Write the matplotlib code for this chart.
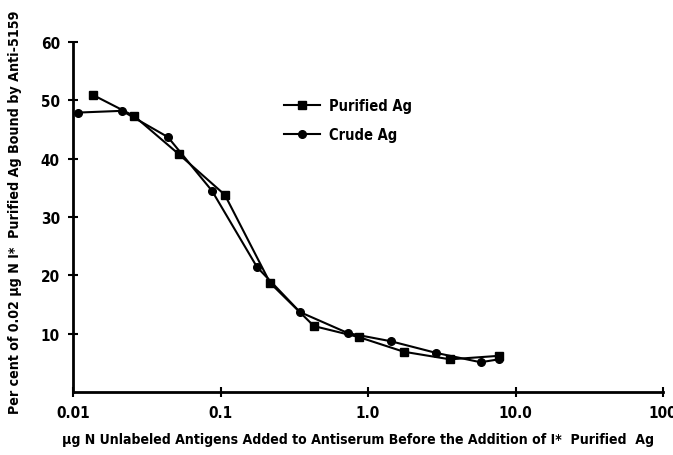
import matplotlib
matplotlib.use("Agg")
import matplotlib.pyplot as plt
from matplotlib.ticker import FixedLocator, FixedFormatter, NullLocator

plt.rcParams['font.family'] = ['DejaVu Sans']
plt.rcParams['font.stretch'] = 'condensed'
plt.rcParams['font.weight'] = 'bold'

# Data
purified_x = [0.0137, 0.026, 0.052, 0.107, 0.217, 0.43, 0.87, 1.75, 3.6, 7.7]
purified_y = [50.9, 47.3, 40.8, 33.8, 18.7, 11.3, 9.4, 6.9, 5.6, 6.2]
crude_x = [0.0108, 0.0215, 0.044, 0.0875, 0.177, 0.346, 0.73, 1.43, 2.9, 5.8, 7.7]
crude_y = [47.9, 48.2, 43.7, 34.5, 21.4, 13.7, 10.1, 8.7, 6.7, 5.1, 5.6]

x_ticks = [0.01, 0.1, 1.0, 10.0, 100]
x_ticklabels = ["0.01", "0.1", "1.0", "10.0", "100"]
y_ticks = [10, 20, 30, 40, 50, 60]
y_ticklabels = ["10", "20", "30", "40", "50", "60"]

fig = plt.figure(figsize=(6.73, 4.56), dpi=100)
ax = fig.add_axes([73 / 673, 1 - 393 / 456, (663 - 73) / 673, (393 - 43) / 456])

ax.plot(purified_x, purified_y, color='black', lw=1.5, marker='s', markersize=6,
        label='Purified Ag')
ax.plot(crude_x, crude_y, color='black', lw=1.5, marker='o', markersize=5.5,
        label='Crude Ag')

ax.set_xscale('log')
ax.set_xlim(0.01, 100)
ax.set_ylim(0, 60)
ax.xaxis.set_major_locator(FixedLocator(x_ticks))
ax.xaxis.set_major_formatter(FixedFormatter(x_ticklabels))
ax.xaxis.set_minor_locator(NullLocator())
ax.yaxis.set_major_locator(FixedLocator(y_ticks))
ax.yaxis.set_major_formatter(FixedFormatter(y_ticklabels))

for s in ['top', 'right']:
    ax.spines[s].set_visible(False)
for s in ['left', 'bottom']:
    ax.spines[s].set_linewidth(2)

ax.tick_params(axis='both', which='major', direction='inout', length=7, width=1.5,
               labelsize=11, pad=6)
for lab in ax.get_xticklabels() + ax.get_yticklabels():
    lab.set_fontweight('bold')

fig.text(358 / 673, 1 - 440 / 456,
         "\u00b5g N Unlabeled Antigens Added to Antiserum Before the Addition of I*  Purified  Ag",
         ha='center', va='center', fontsize=10.1, fontweight='bold')
fig.text(0.022, 0.535, "Per cent of 0.02 \u00b5g N I*  Purified Ag Bound by Anti-5159",
         rotation=90, ha='center', va='center', fontsize=10.2, fontweight='bold')

leg = ax.legend(loc='upper left', bbox_to_anchor=(0.335, 0.877), frameon=False,
                handlelength=2.5, handletextpad=0.6, labelspacing=0.95,
                prop={'size': 10.5, 'weight': 'bold'})

fig.savefig("out.png", dpi=100)
